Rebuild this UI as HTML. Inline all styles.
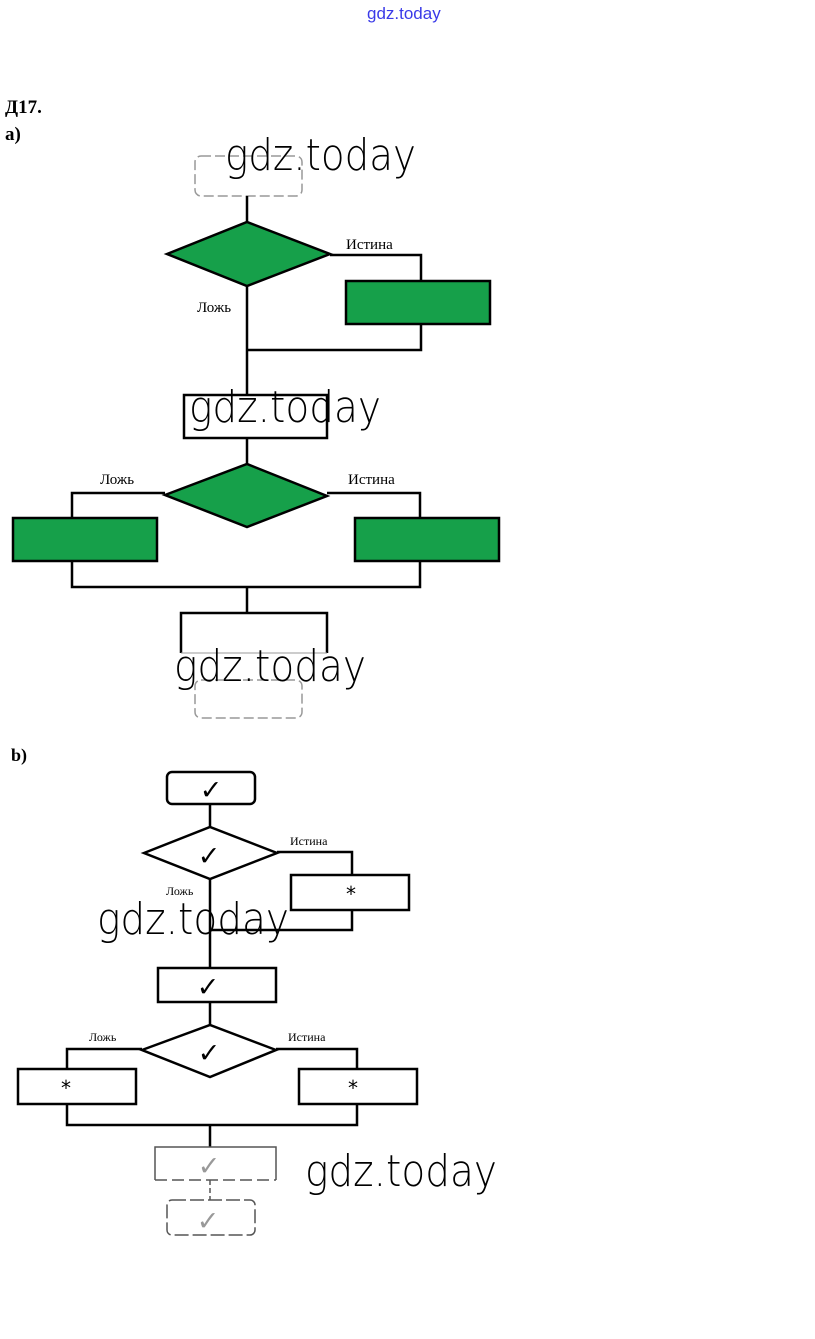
<!DOCTYPE html>
<html><head><meta charset="utf-8"><style>
html,body{margin:0;padding:0;background:#fff;}
svg{display:block;}
</style></head><body>
<svg width="815" height="1339" viewBox="0 0 815 1339" xmlns="http://www.w3.org/2000/svg">
<rect width="815" height="1339" fill="#fff"/>
<text x="367" y="19" font-family="Liberation Sans, sans-serif" font-size="17" fill="#3a3ae8">gdz.today</text>

<text x="5" y="113" font-family="Liberation Serif, serif" font-size="19" font-weight="bold">Д17.</text>
<text x="5" y="140" font-family="Liberation Serif, serif" font-size="19" font-weight="bold">а)</text>

<g fill="none" stroke="#000" stroke-width="2.5">
<rect x="195" y="156" width="107" height="40" rx="6" stroke="#999" stroke-width="1.5" stroke-dasharray="10 4"/>
<line x1="247" y1="196" x2="247" y2="222"/>
<polygon points="167,254 247,222 330,254 247,286" fill="#16a04a"/>
<polyline points="330,255 421,255 421,281"/>
<rect x="346" y="281" width="144" height="43" fill="#16a04a"/>
<polyline points="421,324 421,350 247,350"/>
<line x1="247" y1="286" x2="247" y2="395"/>
<rect x="184" y="395" width="143" height="43"/>
<line x1="247" y1="438" x2="247" y2="464"/>
<polygon points="165,495 247,464 327,496 247,527" fill="#16a04a"/>
<polyline points="165,493 72,493 72,518"/>
<polyline points="327,493 420,493 420,518"/>
<rect x="13" y="518" width="144" height="43" fill="#16a04a"/>
<rect x="355" y="518" width="144" height="43" fill="#16a04a"/>
<polyline points="72,561 72,587 420,587 420,561"/>
<line x1="247" y1="587" x2="247" y2="613"/>
<polyline points="181,653 181,613 327,613 327,653"/>
<line x1="181" y1="653" x2="327" y2="653" stroke="#999" stroke-width="1"/>
<rect x="195" y="680" width="107" height="38" rx="6" stroke="#999" stroke-width="1.5" stroke-dasharray="10 4"/>

<rect x="167" y="772" width="88" height="32" rx="5"/>
<line x1="210" y1="804" x2="210" y2="827"/>
<polygon points="144,853 210,827 277,853 210,879" fill="#fff"/>
<polyline points="277,852 352,852 352,875"/>
<rect x="291" y="875" width="118" height="35"/>
<polyline points="352,910 352,930 210,930"/>
<line x1="210" y1="879" x2="210" y2="968"/>
<rect x="158" y="968" width="118" height="34"/>
<line x1="210" y1="1002" x2="210" y2="1025"/>
<polygon points="142,1050 210,1025 276,1050 210,1077" fill="#fff"/>
<polyline points="142,1049 67,1049 67,1069"/>
<polyline points="276,1049 357,1049 357,1069"/>
<rect x="18" y="1069" width="118" height="35"/>
<rect x="299" y="1069" width="118" height="35"/>
<polyline points="67,1104 67,1125 357,1125 357,1104"/>
<line x1="210" y1="1125" x2="210" y2="1147"/>
<polyline points="155,1180 155,1147 276,1147 276,1180" stroke="#555" stroke-width="1.5"/>
<line x1="155" y1="1180" x2="276" y2="1180" stroke="#555" stroke-width="1.5" stroke-dasharray="12 5"/>
<line x1="210" y1="1180" x2="210" y2="1200" stroke="#555" stroke-width="1.5" stroke-dasharray="5 3"/>
<rect x="167" y="1200" width="88" height="35" rx="5" stroke="#555" stroke-width="1.5" stroke-dasharray="14 4"/>
</g>

<g font-family="Liberation Serif, serif" font-size="15" fill="#000">
<text x="346" y="249">Истина</text>
<text x="197" y="312">Ложь</text>
<text x="100" y="484">Ложь</text>
<text x="348" y="484">Истина</text>
</g>
<g font-family="Liberation Serif, serif" font-size="12" fill="#000">
<text x="290" y="845">Истина</text>
<text x="166" y="895">Ложь</text>
<text x="89" y="1041">Ложь</text>
<text x="288" y="1041">Истина</text>
</g>
<text x="11" y="761" font-family="Liberation Serif, serif" font-size="18" font-weight="bold">b)</text>

<g font-family="DejaVu Sans, sans-serif" font-size="27" font-weight="bold" fill="#000" text-anchor="middle">
<text x="211" y="799">✓</text>
<text x="209" y="865">✓</text>
<text x="208" y="996">✓</text>
<text x="209" y="1062">✓</text>
<text x="209" y="1175" fill="#999">✓</text>
<text x="208" y="1230" fill="#999">✓</text>
</g>
<g font-family="DejaVu Sans, sans-serif" font-size="20" fill="#000" text-anchor="middle">
<text x="351" y="901">*</text>
<text x="66" y="1095">*</text>
<text x="353" y="1095">*</text>
</g>

<g font-family="DejaVu Sans, Liberation Sans, sans-serif" font-size="44" fill="#000" font-weight="200">
<text x="225" y="170" textLength="191" lengthAdjust="spacingAndGlyphs">gdz.today</text>
<text x="189" y="422" textLength="192" lengthAdjust="spacingAndGlyphs">gdz.today</text>
<text x="174" y="681" textLength="192" lengthAdjust="spacingAndGlyphs">gdz.today</text>
<text x="97" y="934" textLength="192" lengthAdjust="spacingAndGlyphs">gdz.today</text>
<text x="305" y="1186" textLength="192" lengthAdjust="spacingAndGlyphs">gdz.today</text>
</g>
</svg>
</body></html>
